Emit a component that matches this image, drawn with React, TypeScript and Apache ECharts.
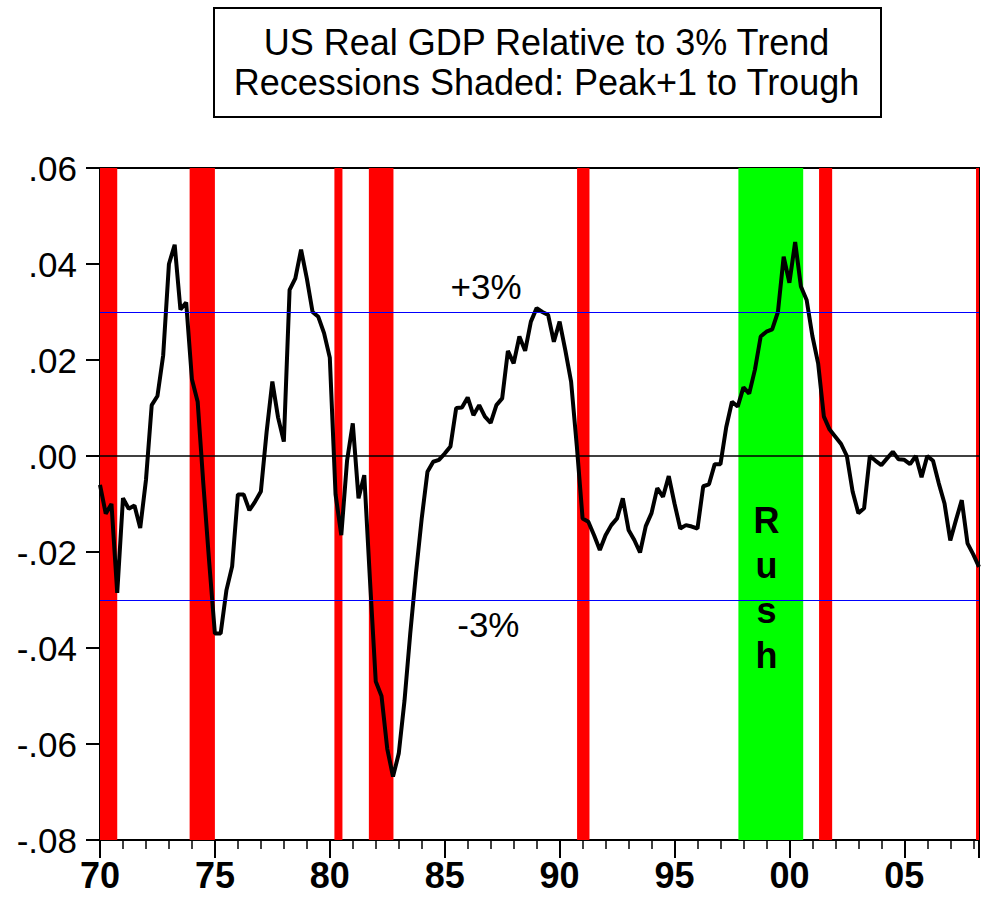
import React, { useEffect, useRef } from "react";
import * as echarts from "echarts";

// Quarterly data, 1970Q1 .. 2008Q2 (log real GDP minus 3% trend)
const startYear = 1970;
const endYear = 2008.25;
const gdpGap = [
  -0.006, -0.012, -0.01, -0.0285, -0.0088, -0.011, -0.0103, -0.015,
  -0.005, 0.0106, 0.0125, 0.021, 0.04, 0.044, 0.0305, 0.032,
  0.016, 0.0113, -0.006, -0.022, -0.037, -0.037, -0.028, -0.023,
  -0.008, -0.008, -0.0113, -0.0095, -0.0074, 0.005, 0.0155, 0.008,
  0.003, 0.0346, 0.037, 0.043, 0.037, 0.03, 0.029, 0.0256,
  0.0205, -0.008, -0.0165, -0.001, 0.0068, -0.0088, -0.004, -0.026,
  -0.047, -0.05, -0.061, -0.0668, -0.062, -0.051, -0.037, -0.0244,
  -0.013, -0.0033, -0.0012, -0.0008, 0.0005, 0.002, 0.01, 0.0101,
  0.0122, 0.0085, 0.0106, 0.0082, 0.0069, 0.0106, 0.012, 0.0219,
  0.0193, 0.0249, 0.0219, 0.028, 0.0308, 0.03, 0.0294, 0.0238,
  0.028, 0.022, 0.0155, 0.002, -0.013, -0.0137, -0.0165, -0.0196,
  -0.0165, -0.0144, -0.013, -0.0088, -0.0154, -0.0175, -0.0201, -0.0146,
  -0.0119, -0.0067, -0.0085, -0.0042, -0.0099, -0.0151, -0.0144, -0.0147,
  -0.0151, -0.0063, -0.0059, -0.0017, -0.0017, 0.006, 0.0113, 0.0103,
  0.0143, 0.013, 0.018, 0.0249, 0.0259, 0.0264, 0.03, 0.0415,
  0.0361, 0.0446, 0.0353, 0.0325, 0.025, 0.0193, 0.0082, 0.0055,
  0.004, 0.0025, 0.0, -0.0074, -0.0119, -0.0109, 0.0, -0.001,
  -0.0019, -0.0005, 0.0009, -0.0007, -0.0008, -0.0017, 0.0, -0.0044,
  0.0, -0.001, -0.0057, -0.0099, -0.0176, -0.0133, -0.0092, -0.0182,
  -0.0205, -0.0231,
];

// Recession shading (peak+1 to trough), in years
const recessionStarts = [1970.0, 1973.9, 1980.2, 1981.7, 1990.76, 2001.29, 2008.12];
const recessionEnds = [1970.75, 1975.0, 1980.55, 1982.77, 1991.3, 2001.86, 2008.25];
// "Rush" period shading
const rushStart = 1997.78;
const rushEnd = 2000.6;

// Reference lines
const trendBand = [0.03, -0.03];
const bandLabels = ["+3%", "-3%"];

const yMin = -0.08;
const yMax = 0.06;
const yStep = 0.02;

const titleLines = ["US Real GDP Relative to 3% Trend", "Recessions Shaded: Peak+1 to Trough"];

const FONT = '"Liberation Sans", Arial, sans-serif';

export default function App() {
  const ref = useRef<HTMLDivElement>(null);

  useEffect(() => {
    const chart = echarts.init(ref.current!, null, { renderer: "svg" });
    const data = gdpGap.map((v, i) => [startYear + i / 4, v]);

    const areas: any[] = recessionStarts.map((s, i) => [
      { xAxis: s, itemStyle: { color: "#ff0000" } },
      { xAxis: recessionEnds[i] },
    ]);
    areas.push([{ xAxis: rushStart, itemStyle: { color: "#00ff00" } }, { xAxis: rushEnd }]);

    const option: any = {
      animation: false,
      backgroundColor: "#fff",
      grid: {
        left: 100,
        right: 2,
        top: 168,
        bottom: 58,
        show: true,
        borderColor: "#000",
        borderWidth: 2,
        backgroundColor: "transparent",
      },
      xAxis: [
        {
          type: "value",
          min: startYear,
          max: endYear,
          interval: 5,
          position: "bottom",
          axisLine: { show: true, onZero: false, lineStyle: { color: "#000", width: 2 } },
          axisTick: { show: true, length: 18, lineStyle: { color: "#000", width: 2 } },
          axisLabel: {
            color: "#000",
            fontFamily: FONT,
            fontWeight: "bold",
            fontSize: 36,
            margin: 17,
            formatter: (v: number) =>
              Math.abs(v % 5) < 1e-9 && v < endYear ? String(v % 100).padStart(2, "0") : "",
          },
          splitLine: { show: false },
        },
        {
          type: "value",
          min: startYear,
          max: endYear,
          interval: 1,
          position: "bottom",
          axisLine: { show: false, onZero: false },
          axisTick: { show: true, length: 9, lineStyle: { color: "#000", width: 1.5 } },
          axisLabel: { show: false },
          splitLine: { show: false },
        },
      ],
      yAxis: {
        type: "value",
        min: yMin,
        max: yMax,
        interval: yStep,
        axisLine: { show: true, onZero: false, lineStyle: { color: "#000", width: 2 } },
        axisTick: { show: true, length: 14, lineStyle: { color: "#000", width: 2 } },
        axisLabel: {
          color: "#000",
          fontFamily: FONT,
          fontSize: 35,
          margin: 23,
          formatter: (v: number) => (v < -1e-9 ? "-" : "") + Math.abs(v).toFixed(2).slice(1),
        },
        splitLine: { show: false },
      },
      graphic: [
        {
          type: "rect",
          left: 213,
          top: 7,
          shape: { x: 0, y: 0, width: 667, height: 109 },
          style: { fill: "#fff", stroke: "#000", lineWidth: 2 },
        },
        {
          type: "text",
          x: 546.5,
          y: 62,
          style: {
            text: titleLines.join("\n"),
            fill: "#000",
            fontFamily: FONT,
            fontSize: 36,
            lineHeight: 40,
            align: "center",
            verticalAlign: "middle",
            textAlign: "center",
            textVerticalAlign: "middle",
          },
        },
      ],
      series: [
        {
          type: "line",
          name: "shading",
          data: [],
          z: 1,
          silent: true,
          markArea: { silent: true, data: areas },
          markLine: {
            silent: true,
            symbol: ["none", "none"],
            label: { show: false },
            data: [
              { yAxis: 0, lineStyle: { color: "#000", width: 1.5, type: "solid" } },
              ...trendBand.map((v) => ({ yAxis: v, lineStyle: { color: "#0000ff", width: 1, type: "solid" } })),
            ],
          },
          markPoint: {
            silent: true,
            symbol: "circle",
            symbolSize: 0,
            label: { show: true, position: "inside", color: "#000", fontFamily: FONT },
            data: [
              { coord: [1986.8, 0.0354], value: bandLabels[0], label: { fontSize: 35, formatter: bandLabels[0] } },
              { coord: [1986.9, -0.035], value: bandLabels[1], label: { fontSize: 35, formatter: bandLabels[1] } },
              {
                coord: [1999.0, -0.0275],
                value: "Rush",
                label: { fontSize: 36, fontWeight: "bold", lineHeight: 45, formatter: "R\nu\ns\nh" },
              },
            ],
          },
        },
        {
          type: "line",
          name: "GDP gap",
          data,
          z: 3,
          showSymbol: false,
          symbol: "none",
          lineStyle: { color: "#000", width: 4 },
        },
      ],
    };

    chart.setOption(option);
    return () => chart.dispose();
  }, []);

  return <div ref={ref} style={{ position: "fixed", left: 0, top: 0, width: 982, height: 898 }} />;
}
